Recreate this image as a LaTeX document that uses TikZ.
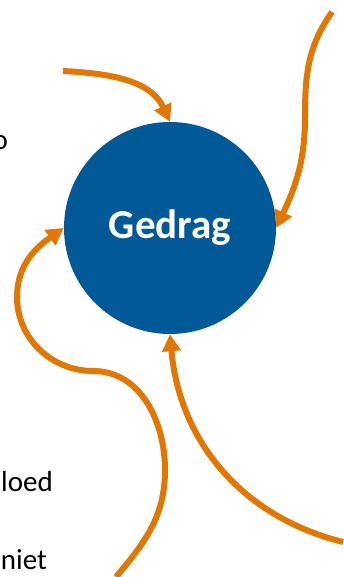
\documentclass[tikz,border=0pt]{standalone}
\usepackage{fontspec}
\setmainfont{Carlito}
\usetikzlibrary{positioning, arrows.meta}
\definecolor{gedragblauw}{RGB}{1,89,152}
\definecolor{pijloranje}{RGB}{225,118,0}

\begin{document}
\begin{tikzpicture}[x=1pt,y=1pt,>={Triangle[length=17pt,width=18pt]},
    pijl/.style={->,line width=6pt,draw=pijloranje},
    tekst/.style={font=\fontsize{29}{34}\selectfont,inner sep=0pt,anchor=base east}]
  \useasboundingbox (0,0) rectangle (343,577);
  % Nodes
  \node[circle,fill=gedragblauw,minimum size=212pt,inner sep=0pt,text=white,
    font=\fontsize{41}{48}\selectfont\bfseries] (Gedrag) at (170,349) {Gedrag};
  \node[tekst] (Groep) at (8,427) {o};
  \node[tekst] (Invloed) at (53,85) {loed};
  \node[tekst] (Niet) at (47,7) {niet};

  % Free ends
  \coordinate (BovenStart) at (63,506);
  \coordinate (RechtsStart) at (332,565);
  \coordinate (RechtsMidden) at (305,460);
  \coordinate (LinksStart) at (116,0);
  \coordinate (LinksBocht) at (165,107);
  \coordinate (LinksSchouder) at (93,206);
  \coordinate (LinksKant) at (17,280);
  \coordinate (OnderStart) at (343,35);

  % Arrows
  \draw[pijl] (BovenStart) to[out=-3,in=115] (Gedrag.north);
  \draw[pijl] (RechtsStart) to[out=-125,in=90] (RechtsMidden)
    to[out=-90,in=65] (Gedrag.east);
  \draw[pijl] (LinksStart) to[out=50,in=-90] (LinksBocht)
    to[out=90,in=0] (LinksSchouder) to[out=180,in=-90] (LinksKant)
    to[out=90,in=-145] (Gedrag.west);
  \draw[pijl] (OnderStart) to[out=166,in=-85] (Gedrag.south);
\end{tikzpicture}
\end{document}
